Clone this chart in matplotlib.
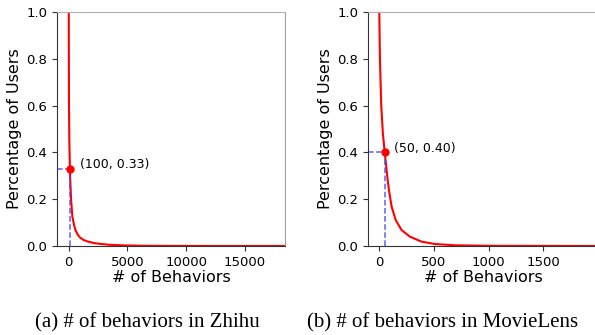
import matplotlib
matplotlib.use("Agg")
import matplotlib.pyplot as plt

# complementary distribution of behaviours per user
zhihu_x = [1, 20, 50, 100, 140, 200, 310, 450, 570, 750, 940, 1250, 1650, 2200,
           2780, 3500, 4500, 6000, 8000, 12000, 18400]
zhihu_y = [1.0, 0.6, 0.45, 0.33, 0.268, 0.197, 0.125, 0.09, 0.068, 0.05, 0.037,
           0.026, 0.0185, 0.012, 0.0085, 0.005, 0.003, 0.0012, 0.0004, 0.0001, 0.0]

movie_x = [0, 6, 18, 33, 50, 70, 88, 113, 150, 204, 280, 387, 509, 692, 1000, 2000]
movie_y = [1.0, 0.8, 0.6, 0.48, 0.4, 0.31, 0.24, 0.168, 0.111, 0.068, 0.04,
           0.0185, 0.0085, 0.003, 0.0008, 0.0]

zhihu_pt = (100, 0.33)
movie_pt = (50, 0.40)

captions = ["(a) # of behaviors in Zhihu", "(b) # of behaviors in MovieLens"]

fig = plt.figure(figsize=(5.95, 3.35), dpi=100)
ax1 = fig.add_axes([0.0958, 0.2657, 0.383, 0.6985])
ax2 = fig.add_axes([0.6185, 0.2657, 0.3866, 0.6985])


def draw(ax, xs, ys, pt, xlim, xticks, label):
    ax.plot(xs, ys, color='red', lw=1.5)
    ax.plot([xlim[0], pt[0]], [pt[1], pt[1]], '--', color='#4444ff', lw=1.1, alpha=0.85)
    ax.plot([pt[0], pt[0]], [0, pt[1]], '--', color='#4444ff', lw=1.1, alpha=0.85)
    ax.plot(pt[0], pt[1], 'o', color='red', ms=5)
    ax.annotate(label, xy=pt, xytext=(7, 3), textcoords='offset points',
                fontsize=9, va='center')
    ax.set_xlim(*xlim)
    ax.set_ylim(0, 1.0)
    ax.set_xticks(xticks)
    ax.set_yticks([0, 0.2, 0.4, 0.6, 0.8, 1.0])
    ax.tick_params(labelsize=9.5, color='#333333', length=3.5)
    ax.set_xlabel('# of Behaviors', fontsize=11.5, labelpad=1)
    ax.set_ylabel('Percentage of Users', fontsize=11.5, labelpad=3)
    ax.spines['left'].set_color('#333333')
    ax.spines['bottom'].set_color('#333333')
    ax.spines['top'].set_color('#b0b0b0')
    ax.spines['right'].set_color('#a0a0a0')


draw(ax1, zhihu_x, zhihu_y, zhihu_pt, (-1000, 18400), [0, 5000, 10000, 15000], '(100, 0.33)')
draw(ax2, movie_x, movie_y, movie_pt, (-103, 2000), [0, 500, 1000, 1500], '(50, 0.40)')

fig.text(0.248, 0.036, captions[0], ha='center', va='center',
         family='Liberation Serif', fontsize=15)
fig.text(0.516, 0.036, captions[1], ha='left', va='center',
         family='Liberation Serif', fontsize=15)

fig.savefig('out.png', dpi=100)
